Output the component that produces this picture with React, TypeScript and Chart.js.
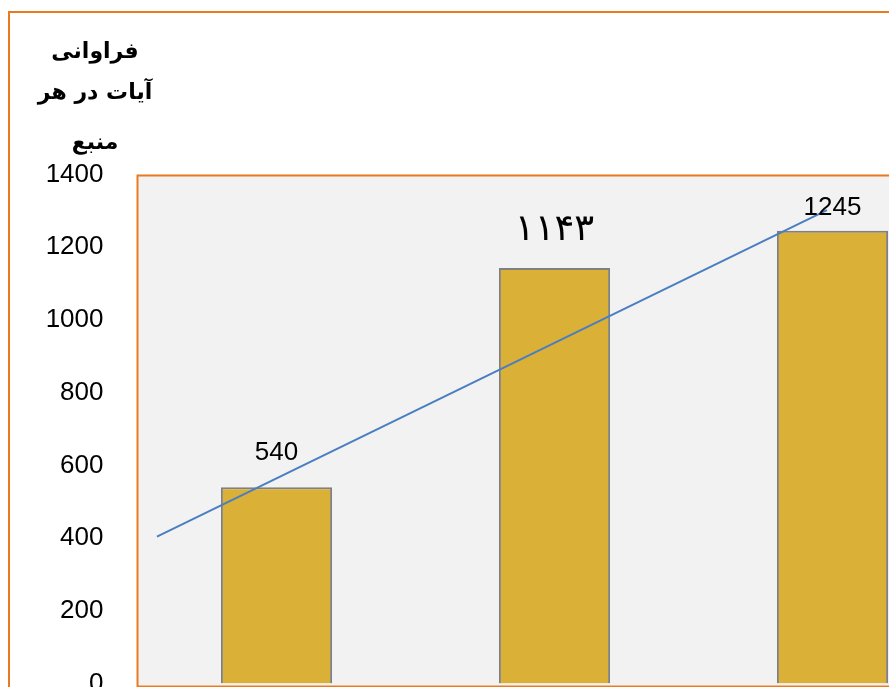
import React, { useEffect, useRef } from "react";
import { Chart, registerables } from "chart.js";

Chart.register(...registerables);

// ---- data ----
const categories = ["منبع ۱", "منبع ۲", "منبع ۳"];
const values = [540, 1143, 1245];
const valueLabels = ["540", "۱۱۴۳", "1245"];
const trendX = [-0.43, 1.98];
const trendY = [404, 1302];
const yTitleLines = ["فراوانی", "آیات در هر", "منبع"];
const yMin = 0;
const yMax = 1400;
const yStep = 200;

const ORANGE = "#EA7A20";

const plotAreaPlugin = {
  id: "plotArea",
  beforeDatasetsDraw(chart: any) {
    const { ctx, chartArea } = chart;
    ctx.save();
    ctx.fillStyle = "#F2F2F2";
    ctx.fillRect(chartArea.left, chartArea.top, chartArea.right - chartArea.left, chartArea.bottom - chartArea.top + 2);
    ctx.restore();
  },
  afterDraw(chart: any) {
    const { ctx, chartArea } = chart;
    ctx.save();
    ctx.strokeStyle = ORANGE;
    ctx.lineWidth = 2;
    ctx.strokeRect(chartArea.left, chartArea.top + 1, chartArea.right - chartArea.left, chartArea.bottom - chartArea.top + 2);
    ctx.restore();
  },
};

const labelOffsets = [34, 38, 23];
const labelFonts = ["26px 'Liberation Sans', Arial, sans-serif", "37px 'DejaVu Sans', sans-serif", "26px 'Liberation Sans', Arial, sans-serif"];

const valueLabelPlugin = {
  id: "valueLabels",
  afterDraw(chart: any) {
    const { ctx } = chart;
    const meta = chart.getDatasetMeta(0);
    ctx.save();
    ctx.fillStyle = "#000";
    ctx.textAlign = "center";
    ctx.textBaseline = "middle";
    meta.data.forEach((bar: any, i: number) => {
      ctx.font = labelFonts[i];
      ctx.fillText(valueLabels[i], bar.x, bar.y - labelOffsets[i]);
    });
    ctx.restore();
  },
};

const yTitlePlugin = {
  id: "yTitle",
  afterDraw(chart: any) {
    const { ctx } = chart;
    const yScale = chart.scales.y;
    const cx = yScale.left + 95;
    const top = chart.chartArea.top;
    const ys = [top - 122, top - 81, top - 31];
    ctx.save();
    ctx.fillStyle = "#000";
    ctx.textAlign = "center";
    ctx.textBaseline = "middle";
    ctx.font = "bold 22px 'DejaVu Sans', sans-serif";
    yTitleLines.forEach((t, i) => ctx.fillText(t, cx, ys[i]));
    ctx.restore();
  },
};

export default function App() {
  const ref = useRef<HTMLCanvasElement | null>(null);
  useEffect(() => {
    if (!ref.current) return;
    const chart = new Chart(ref.current, {
      type: "bar",
      data: {
        labels: categories,
        datasets: [
          {
            type: "bar",
            data: values,
            backgroundColor: "#DAB036",
            borderColor: "#808080",
            borderWidth: 2,
            barPercentage: 0.4,
            categoryPercentage: 1,
            grouped: false,
            xAxisID: "x",
            yAxisID: "y",
            order: 2,
          },
          {
            type: "line",
            data: trendX.map((x, i) => ({ x, y: trendY[i] })),
            borderColor: "#4A7EC2",
            borderWidth: 2,
            pointRadius: 0,
            fill: false,
            xAxisID: "x2",
            yAxisID: "y",
            order: 1,
          } as any,
        ],
      },
      options: {
        animation: false,
        responsive: false,
        devicePixelRatio: 1,
        layout: { padding: { top: 174.5, left: 0, right: 28.5, bottom: 116.5 } },
        plugins: { legend: { display: false }, tooltip: { enabled: false }, title: { display: false } },
        scales: {
          x: { display: false, offset: true, grid: { display: false } },
          x2: { type: "linear", display: false, offset: false, min: -0.5, max: 2.5, grid: { offset: false } },
          y: {
            min: yMin,
            max: yMax,
            ticks: {
              stepSize: yStep,
              padding: 34,
              color: "#000",
              font: { family: "'Liberation Sans', Arial, sans-serif", size: 26 },
              callback: (v: any) => String(v),
            },
            grid: { display: false, drawTicks: false },
            border: { display: false },
            afterFit: (scale: any) => {
              scale.width = 137.5;
            },
          },
        },
      },
      plugins: [plotAreaPlugin, valueLabelPlugin, yTitlePlugin],
    } as any);
    return () => chart.destroy();
  }, []);

  return (
    <div style={{ position: "fixed", left: 0, top: 0, width: 889, height: 687, overflow: "hidden", background: "#fff" }}>
      <div
        style={{
          position: "absolute",
          left: 8,
          top: 11,
          width: 1200,
          height: 1000,
          border: `2.5px solid ${ORANGE}`,
          boxSizing: "border-box",
        }}
      />
      <canvas ref={ref} width={1000} height={800} style={{ position: "absolute", left: 0, top: 0, width: 1000, height: 800 }} />
    </div>
  );
}
